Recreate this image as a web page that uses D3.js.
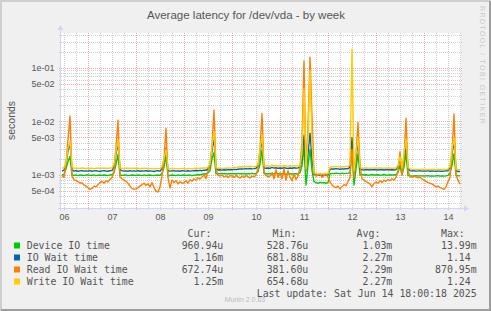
<!DOCTYPE html>
<html>
<head>
<meta charset="utf-8">
<script src="https://cdn.jsdelivr.net/npm/d3@7"></script>
<style>
body { margin: 0; background: #F0F0F0; }
svg { display: block; }
</style>
</head>
<body>
<script>
const WIDTH = 491
const HEIGHT = 311

// hourly samples, first one 2025-06-06 11:00, values in ms
const firstSample = Date.UTC(2025, 5, 6, 11)

const deviceIO = [
  1.0, 1.02, 1.3, 1.8, 2.2, 1.0, 0.98, 1.0, 0.97, 1.0, 0.99, 0.98, 1.0,
  1.0, 0.98, 0.99, 1.0, 0.97, 0.99, 1.0, 0.98, 1.0, 0.99, 0.97, 1.0, 1.02, 1.1, 1.6, 2.4, 1.0, 0.98, 0.99, 1.0, 0.97, 0.98, 1.0, 0.99,
  0.98, 1.0, 0.99, 0.97, 1.0, 0.98, 0.99, 1.0, 0.98, 0.97, 0.99, 1.0, 0.98, 1.05, 1.4, 2.3, 0.95, 0.98, 1.0, 0.99, 0.97, 1.0, 0.98, 0.99,
  1.0, 0.98, 0.99, 1.0, 0.97, 0.99, 1.0, 1.02, 1.0, 1.03, 1.05, 1.04, 1.1, 1.2, 2.0, 2.6, 1.05, 1.06, 1.05, 1.07, 1.05, 1.06, 1.04, 1.06,
  1.05, 1.06, 1.04, 1.07, 1.05, 1.06, 1.05, 1.04, 1.06, 1.05, 1.07, 1.05, 1.06, 1.15, 1.6, 2.9, 1.05, 1.06, 1.04, 1.07, 1.02, 1.06, 1.08, 1.05,
  1.04, 1.06, 1.05, 1.03, 1.06, 1.05, 1.04, 1.06, 1.05, 1.04, 1.1, 1.5, 3.4, 0.65, 1.5, 3.0, 1.2, 0.75, 0.72, 0.7, 0.73, 0.71, 0.72, 0.7,
  0.72, 1.05, 1.07, 1.06, 1.08, 1.07, 1.05, 1.08, 1.06, 1.07, 1.08, 1.1, 2.9, 0.65, 1.3, 2.5, 1.0, 1.02, 1.0, 1.01, 0.99, 1.0, 1.02, 1.0,
  1.0, 1.01, 0.99, 1.0, 1.02, 1.0, 0.99, 1.01, 1.0, 1.0, 1.02, 1.1, 1.5, 1.0, 1.4, 2.6, 0.97, 0.96, 0.95, 0.96, 0.97, 0.95, 0.96, 0.96,
  0.95, 0.96, 0.97, 0.95, 0.96, 0.95, 0.96, 0.97, 0.95, 0.96, 0.95, 0.96, 0.98, 1.1, 1.5, 2.5, 1.0, 0.96, 0.96
]

const ioWait = [
  1.2, 1.22, 1.6, 2.8, 4.0, 1.25, 1.18, 1.2, 1.17, 1.19, 1.2, 1.18, 1.19,
  1.18, 1.2, 1.17, 1.19, 1.2, 1.18, 1.16, 1.19, 1.2, 1.18, 1.17, 1.2, 1.22, 1.4, 2.5, 4.0, 1.25, 1.2, 1.18, 1.19, 1.17, 1.2, 1.18, 1.19,
  1.18, 1.2, 1.17, 1.19, 1.18, 1.2, 1.17, 1.19, 1.18, 1.16, 1.19, 1.2, 1.18, 1.3, 1.8, 3.2, 1.2, 1.18, 1.19, 1.2, 1.18, 1.19, 1.17, 1.2,
  1.19, 1.18, 1.2, 1.18, 1.19, 1.2, 1.21, 1.2, 1.22, 1.2, 1.23, 1.22, 1.3, 1.5, 2.8, 5.0, 1.3, 1.24, 1.25, 1.23, 1.25, 1.24, 1.26, 1.25,
  1.25, 1.27, 1.26, 1.28, 1.3, 1.29, 1.3, 1.31, 1.3, 1.32, 1.3, 1.31, 1.33, 1.45, 2.6, 4.8, 1.35, 1.33, 1.35, 1.32, 1.38, 1.34, 1.36, 1.33,
  1.35, 1.33, 1.36, 1.34, 1.32, 1.35, 1.33, 1.36, 1.34, 1.35, 1.4, 2.0, 5.5, 1.2, 2.5, 6.0, 2.0, 1.02, 1.0, 0.98, 1.01, 0.99, 1.0, 1.01,
  1.0, 1.28, 1.3, 1.29, 1.31, 1.3, 1.28, 1.3, 1.29, 1.31, 1.3, 1.4, 5.0, 1.1, 2.0, 4.5, 1.3, 1.25, 1.24, 1.26, 1.25, 1.24, 1.25, 1.26,
  1.25, 1.24, 1.26, 1.25, 1.24, 1.25, 1.26, 1.24, 1.25, 1.24, 1.26, 1.4, 2.0, 1.25, 2.0, 3.6, 1.3, 1.2, 1.19, 1.2, 1.18, 1.19, 1.2, 1.18,
  1.19, 1.18, 1.2, 1.17, 1.19, 1.18, 1.17, 1.19, 1.18, 1.17, 1.18, 1.19, 1.2, 1.35, 2.4, 4.5, 1.2, 1.16, 1.16
]

const readWait = [
  0.95, 0.9, 1.6, 4.5, 12.6, 0.95, 0.82, 0.78, 0.75, 0.7, 0.72, 0.65, 0.62,
  0.58, 0.54, 0.56, 0.62, 0.6, 0.66, 0.72, 0.76, 0.7, 0.78, 0.74, 0.82, 0.9, 1.15, 3.2, 10.5, 0.92, 0.85, 0.8, 0.76, 0.7, 0.62, 0.56, 0.54,
  0.55, 0.58, 0.62, 0.66, 0.7, 0.64, 0.68, 0.6, 0.72, 0.58, 0.5, 0.48, 0.6, 0.95, 1.9, 7.4, 0.9, 0.57, 0.8, 0.72, 0.78, 0.68, 0.75, 0.7,
  0.72, 0.78, 0.7, 0.82, 0.76, 0.85, 0.8, 0.88, 0.84, 0.92, 1.0, 0.85, 1.2, 1.5, 3.5, 16.3, 1.3, 0.98, 0.95, 1.0, 0.92, 0.96, 0.9, 0.97,
  0.95, 0.9, 0.98, 0.92, 0.88, 0.95, 0.9, 0.97, 0.93, 0.88, 0.95, 0.92, 1.0, 1.3, 3.0, 14.0, 1.2, 0.98, 0.92, 0.95, 1.1, 0.85, 1.25, 0.9,
  1.1, 0.85, 1.3, 0.8, 1.2, 0.9, 0.78, 1.05, 0.82, 0.95, 1.4, 4.0, 134, 1.2, 8.0, 157, 12.0, 1.1, 0.95, 1.0, 1.05, 0.9, 0.98, 1.05,
  0.9, 0.75, 0.65, 0.6, 0.58, 0.62, 0.55, 0.6, 0.66, 0.63, 0.75, 0.9, 3.0, 0.9, 2.5, 9.5, 1.5, 0.85, 0.8, 0.75, 0.72, 0.68, 0.6, 0.7,
  0.74, 0.7, 0.78, 0.72, 0.8, 0.76, 0.82, 0.78, 0.85, 0.8, 0.9, 1.2, 2.7, 1.0, 2.0, 11.4, 1.2, 0.93, 0.9, 0.95, 0.92, 0.88, 0.9, 0.85,
  0.8, 0.76, 0.72, 0.7, 0.68, 0.64, 0.6, 0.62, 0.58, 0.56, 0.54, 0.6, 0.75, 0.9, 2.5, 13.7, 1.0, 0.8, 0.67
]

const writeWait = [
  1.34, 1.36, 1.7, 3.2, 4.2, 1.45, 1.32, 1.34, 1.33, 1.32, 1.35, 1.33, 1.32,
  1.33, 1.32, 1.34, 1.31, 1.33, 1.34, 1.32, 1.33, 1.35, 1.32, 1.33, 1.34, 1.36, 1.6, 2.8, 4.5, 1.35, 1.33, 1.32, 1.34, 1.33, 1.32, 1.34, 1.33,
  1.32, 1.33, 1.31, 1.33, 1.32, 1.34, 1.3, 1.32, 1.31, 1.3, 1.32, 1.31, 1.32, 1.45, 2.0, 3.0, 1.32, 1.31, 1.3, 1.32, 1.31, 1.3, 1.31, 1.32,
  1.31, 1.3, 1.32, 1.31, 1.3, 1.32, 1.33, 1.32, 1.34, 1.33, 1.35, 1.34, 1.4, 1.6, 3.5, 6.5, 1.4, 1.33, 1.34, 1.32, 1.34, 1.33, 1.35, 1.34,
  1.35, 1.38, 1.37, 1.4, 1.42, 1.41, 1.43, 1.44, 1.42, 1.45, 1.43, 1.44, 1.46, 1.6, 3.0, 5.5, 1.5, 1.46, 1.48, 1.45, 1.52, 1.47, 1.5, 1.46,
  1.48, 1.46, 1.5, 1.47, 1.45, 1.48, 1.46, 1.49, 1.47, 1.48, 1.5, 2.5, 40, 1.3, 5.0, 90, 4.0, 1.1, 1.08, 1.05, 1.07, 1.04, 1.06, 1.08,
  1.05, 1.4, 1.43, 1.42, 1.44, 1.43, 1.41, 1.43, 1.42, 1.44, 1.43, 1.6, 220, 1.2, 2.5, 5.0, 1.4, 1.34, 1.33, 1.35, 1.34, 1.33, 1.34, 1.35,
  1.34, 1.33, 1.35, 1.34, 1.33, 1.34, 1.35, 1.33, 1.34, 1.33, 1.35, 1.5, 2.2, 1.35, 2.5, 4.5, 1.4, 1.3, 1.28, 1.27, 1.26, 1.27, 1.26, 1.27,
  1.26, 1.27, 1.25, 1.26, 1.27, 1.26, 1.25, 1.27, 1.26, 1.25, 1.26, 1.27, 1.28, 1.45, 3.0, 5.0, 1.3, 1.25, 1.25
]

const seriesNames = ["Device IO time", "IO Wait time", "Read IO Wait time", "Write IO Wait time"]
const curValues = ["960.94u", "1.16m", "672.74u", "1.25m"]
const minValues = ["528.76u", "681.88u", "381.60u", "654.68u"]
const avgValues = ["1.03m", "2.27m", "2.29m", "2.27m"]
const maxValues = ["13.99m", "1.14", "870.95m", "1.24"]
const columnHeads = ["Cur:", "Min:", "Avg:", "Max:"]

const yTicks = [1e-1, 5e-2, 1e-2, 5e-3, 1e-3, 5e-4]
const yTickLabels = ["1e-01", "5e-02", "1e-02", "5e-03", "1e-03", "5e-04"]
const dayLabels = ["06", "07", "08", "09", "10", "11", "12", "13", "14"]

const COLORS = ["#00CC00", "#0066B3", "#FF8000", "#FFCC00"]
const FONT = "#555555"
const SANS = "'Liberation Sans', Arial, sans-serif"
const MONO = "'DejaVu Sans Mono', monospace"

// plot area
const X0 = 61, X1 = 461, Y0 = 33, Y1 = 208

const x = d3.scaleUtc()
    .domain([new Date(Date.UTC(2025, 5, 6, 10, 30)), new Date(Date.UTC(2025, 5, 14, 18, 30))])
    .range([X0, X1])

const y = d3.scaleLog()
    .domain([2.42e-4, 0.443])
    .range([Y1, Y0])

const times = deviceIO.map((d, i) => new Date(firstSample + i * 3600e3))
const series = [deviceIO, ioWait, readWait, writeWait]

const svg = d3.select("body").append("svg")
    .attr("width", WIDTH)
    .attr("height", HEIGHT)

// fond + cadre
svg.append("rect").attr("width", WIDTH).attr("height", HEIGHT).attr("fill", "#F0F0F0")
svg.append("path").attr("d", `M1,${HEIGHT} V1 H${WIDTH}`).attr("stroke", "#CFCFCF").attr("stroke-width", 2).attr("fill", "none")
svg.append("path").attr("d", `M1,${HEIGHT - 1} H${WIDTH - 1} V1`).attr("stroke", "#9E9E9E").attr("stroke-width", 2).attr("fill", "none")

svg.append("rect")
    .attr("x", X0).attr("y", Y0)
    .attr("width", X1 - X0).attr("height", Y1 - Y0)
    .attr("fill", "#FFFFFF")

// grille horizontale (log)
const minorY = []
for (let e = -4; e <= -1; e++) {
    for (let k = 1; k <= 9; k++) {
        const v = k * Math.pow(10, e)
        if (v >= y.domain()[0] && v <= y.domain()[1]) minorY.push(v)
    }
}
const grid = svg.append("g").attr("fill", "none").attr("stroke-dasharray", "1,1")

grid.selectAll(".hminor")
    .data(minorY.filter(v => !yTicks.some(t => Math.abs(t - v) / t < 1e-6)))
    .enter().append("line")
    .attr("x1", X0 - 2).attr("x2", X1 + 1)
    .attr("y1", d => Math.round(y(d)) + 0.5).attr("y2", d => Math.round(y(d)) + 0.5)
    .attr("stroke", "#D0D0D0")

// grille verticale : 6 h / minuit
const sixHours = d3.utcHour.every(6).range(x.domain()[0], x.domain()[1])
grid.selectAll(".vminor")
    .data(sixHours.filter(d => d.getUTCHours() !== 0))
    .enter().append("line")
    .attr("x1", d => Math.round(x(d)) + 0.5).attr("x2", d => Math.round(x(d)) + 0.5)
    .attr("y1", Y0).attr("y2", Y1 + 2)
    .attr("stroke", "#D0D0D0")

grid.selectAll(".vmajor")
    .data(d3.utcDay.range(x.domain()[0], x.domain()[1]))
    .enter().append("line")
    .attr("x1", d => Math.round(x(d)) + 0.5).attr("x2", d => Math.round(x(d)) + 0.5)
    .attr("y1", Y0).attr("y2", Y1 + 2)
    .attr("stroke", "#F4A8A8")

grid.selectAll(".hmajor")
    .data(yTicks)
    .enter().append("line")
    .attr("x1", X0 - 2).attr("x2", X1 + 1)
    .attr("y1", d => Math.round(y(d)) + 0.5).attr("y2", d => Math.round(y(d)) + 0.5)
    .attr("stroke", "#F4A8A8")

// courbes
const line = d3.line()
    .x((d, i) => x(times[i]))
    .y(d => y(d * 1e-3))

svg.append("clipPath").attr("id", "plot")
    .append("rect").attr("x", X0).attr("y", Y0).attr("width", X1 - X0).attr("height", Y1 - Y0)

svg.append("g").attr("clip-path", "url(#plot)")
    .selectAll("path")
    .data(series)
    .enter().append("path")
    .attr("d", line)
    .attr("fill", "none")
    .attr("stroke", (d, i) => COLORS[i])
    .attr("stroke-width", 1.4)
    .attr("stroke-linejoin", "round")

// axes (fleches)
const AXIS = "#CFD6F8"
svg.append("line").attr("x1", X0 - 0.5).attr("x2", X0 - 0.5).attr("y1", Y1 + 3).attr("y2", 29).attr("stroke", AXIS)
svg.append("path").attr("d", `M${X0 - 3.5},30 L${X0 - 0.5},25 L${X0 + 2.5},30 Z`).attr("fill", AXIS)
svg.append("line").attr("x1", X0 - 3).attr("x2", 465).attr("y1", Y1 + 0.5).attr("y2", Y1 + 0.5).attr("stroke", AXIS)
svg.append("path").attr("d", `M464,${Y1 - 2.5} L469,${Y1 + 0.5} L464,${Y1 + 3.5} Z`).attr("fill", AXIS)

const yAxis = svg.append("g")
    .attr("transform", `translate(${X0 - 0.5},0)`)
    .call(d3.axisLeft(y).tickValues(yTicks).tickFormat((d, i) => yTickLabels[i]).tickSize(0).tickPadding(6))
yAxis.select(".domain").remove()
yAxis.selectAll("text").attr("font-family", SANS).attr("font-size", 9).attr("fill", FONT)

const noons = dayLabels.map((d, i) => new Date(Date.UTC(2025, 5, 6 + i, 12)))
const xAxis = svg.append("g")
    .attr("transform", `translate(0,${Y1})`)
    .call(d3.axisBottom(x).tickValues(noons).tickFormat((d, i) => dayLabels[i]).tickSize(0).tickPadding(6))
xAxis.select(".domain").remove()
xAxis.selectAll("text").attr("font-family", SANS).attr("font-size", 9).attr("fill", FONT)

// textes
svg.append("text")
    .text("Average latency for /dev/vda - by week")
    .attr("x", 246).attr("y", 18.5)
    .attr("text-anchor", "middle")
    .attr("font-family", SANS).attr("font-size", 11.5).attr("fill", FONT)

svg.append("text")
    .text("seconds")
    .attr("transform", `translate(15,${(Y0 + Y1) / 2}) rotate(-90)`)
    .attr("text-anchor", "middle")
    .attr("font-family", SANS).attr("font-size", 10.5).attr("fill", FONT)

svg.append("text")
    .text("RRDTOOL / TOBI OETIKER")
    .attr("transform", "translate(480,6) rotate(90)")
    .attr("font-family", SANS).attr("font-size", 7).attr("letter-spacing", 1.4).attr("fill", "#C8C8C8")

// légende
const CHAR = 5.96
const colEnds = [223.3, 308.3, 392.3, 476.7]
const columns = [curValues, minValues, avgValues, maxValues]

svg.selectAll(".head")
    .data(columnHeads)
    .enter().append("text")
    .text(d => d)
    .attr("x", (d, i) => colEnds[i] - 2 * CHAR)
    .attr("y", 236.5)
    .attr("text-anchor", "end")
    .attr("font-family", MONO).attr("font-size", 9.9).attr("fill", FONT)

const rows = svg.selectAll(".row")
    .data(seriesNames)
    .enter().append("g")
    .attr("transform", (d, i) => `translate(0,${248.5 + i * 12})`)

rows.append("rect")
    .attr("x", 14).attr("y", -6)
    .attr("width", 6).attr("height", 6)
    .attr("fill", (d, i) => COLORS[i])

rows.append("text")
    .text(d => d)
    .attr("x", 26.7)
    .attr("font-family", MONO).attr("font-size", 9.9).attr("fill", FONT)

columns.forEach((col, c) => {
    rows.append("text")
        .text((d, i) => col[i])
        .attr("x", (d, i) => colEnds[c] - (/[a-z]$/.test(col[i]) ? 0 : CHAR))
        .attr("text-anchor", "end")
        .attr("font-family", MONO).attr("font-size", 9.9).attr("fill", FONT)
})

svg.append("text")
    .text("Last update: Sat Jun 14 18:00:18 2025")
    .attr("x", 476.7).attr("y", 296.5)
    .attr("text-anchor", "end")
    .attr("font-family", MONO).attr("font-size", 9.9).attr("fill", FONT)

svg.append("text")
    .text("Munin 2.0.63")
    .attr("x", 245).attr("y", 302)
    .attr("text-anchor", "middle")
    .attr("font-family", SANS).attr("font-size", 7).attr("fill", "#BBBBBB")
</script>
</body>
</html>
